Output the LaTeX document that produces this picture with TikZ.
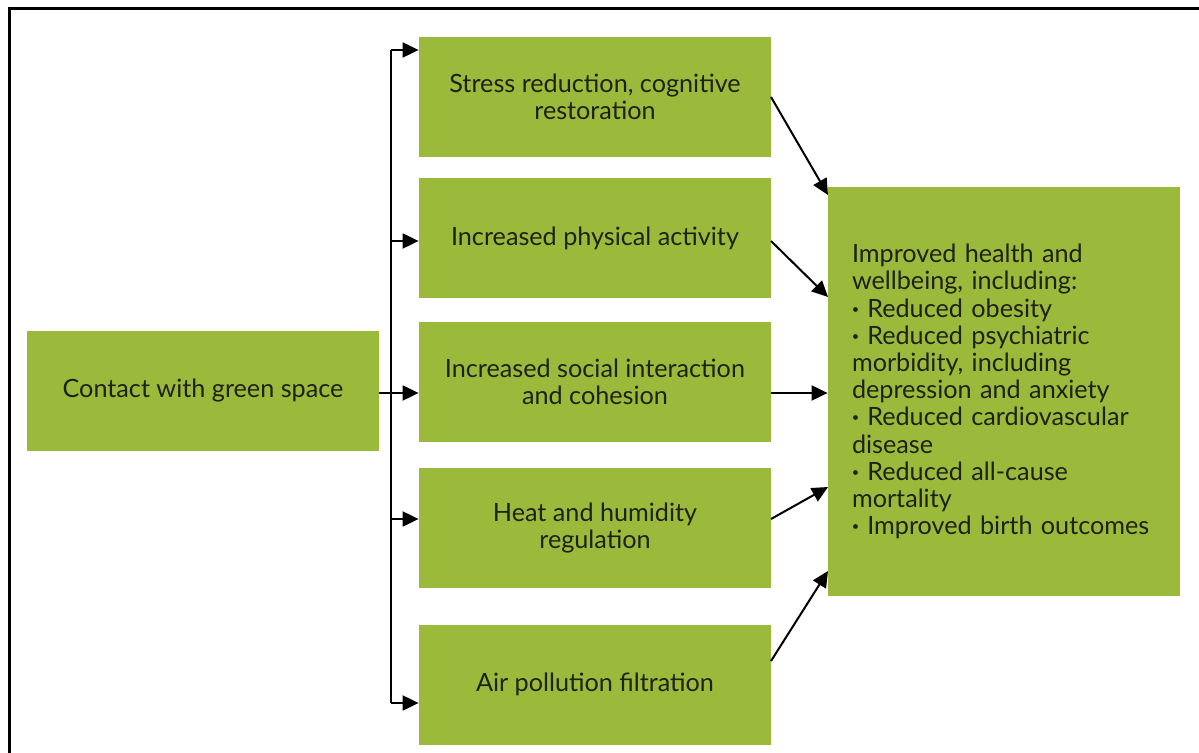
\documentclass[tikz,border=0pt]{standalone}
\usepackage{fontspec}
\setmainfont{Lato}
\usetikzlibrary{arrows.meta}

\definecolor{leafgreen}{RGB}{155,186,60}
\definecolor{inktext}{RGB}{30,34,22}

\tikzset{
  box/.style={fill=leafgreen, text=inktext, minimum width=176pt, minimum height=60pt,
    inner sep=0pt, align=center, font=\fontsize{12.6}{13.6}\selectfont},
  link/.style={-{Triangle[length=8pt,width=7.5pt]}, line width=1pt}
}

\begin{document}
\begin{tikzpicture}[x=0.5pt,y=-0.5pt]

\clip (0,0) rectangle (1199,753);
\draw[line width=1.5pt] (9,9) rectangle (1240,800);

\node[box] (contact) at (203,391) {Contact with green space};

\node[box] (stress) at (595,97) {Stress reduction, cognitive\\restoration};
\node[box] (physical) at (595,238.5) {Increased physical activity};
\node[box] (social) at (595,382) {Increased social interaction\\and cohesion};
\node[box] (heat) at (595,528) {Heat and humidity\\regulation};
\node[box] (air) at (595,684.5) {Air pollution filtration};

\node[box, minimum height=204.5pt, text width=152pt, inner xsep=12pt, align=left] (health) at (1004,391.5)
  {Improved health and\\wellbeing, including:\\
   {\bfseries ·} Reduced obesity\\
   {\bfseries ·} Reduced psychiatric\\morbidity, including\\depression and anxiety\\
   {\bfseries ·} Reduced cardiovascular\\disease\\
   {\bfseries ·} Reduced all-cause\\mortality\\
   {\bfseries ·} Improved birth outcomes};

% branching line
\coordinate (s1) at (391,50);
\coordinate (s2) at (391,241);
\coordinate (s4) at (391,519);
\coordinate (s5) at (391,703);
\draw[line width=1pt] (s1) -- (s5);

\draw[link] (contact.east |- 0,393) -- (social.west |- 0,393);
\draw[link] (s1) -- (stress.west |- s1);
\draw[link] (s2) -- (physical.west |- s2);
\draw[link] (s4) -- (heat.west |- s4);
\draw[link] (s5) -- (air.west |- s5);

% into the outcome box
\coordinate (o1) at (771,97);
\coordinate (o2) at (771,241);
\coordinate (o4) at (771,519);
\coordinate (o5) at (771,661);
\coordinate (i1) at (828,195);
\coordinate (i2) at (828,297);
\coordinate (i4) at (828,487);
\coordinate (i5) at (828,571);

\draw[link] (o1) -- (i1);
\draw[link] (o2) -- (i2);
\draw[link] (social.east |- 0,393) -- (health.west |- 0,393);
\draw[link] (o4) -- (i4);
\draw[link] (o5) -- (i5);

\end{tikzpicture}
\end{document}
